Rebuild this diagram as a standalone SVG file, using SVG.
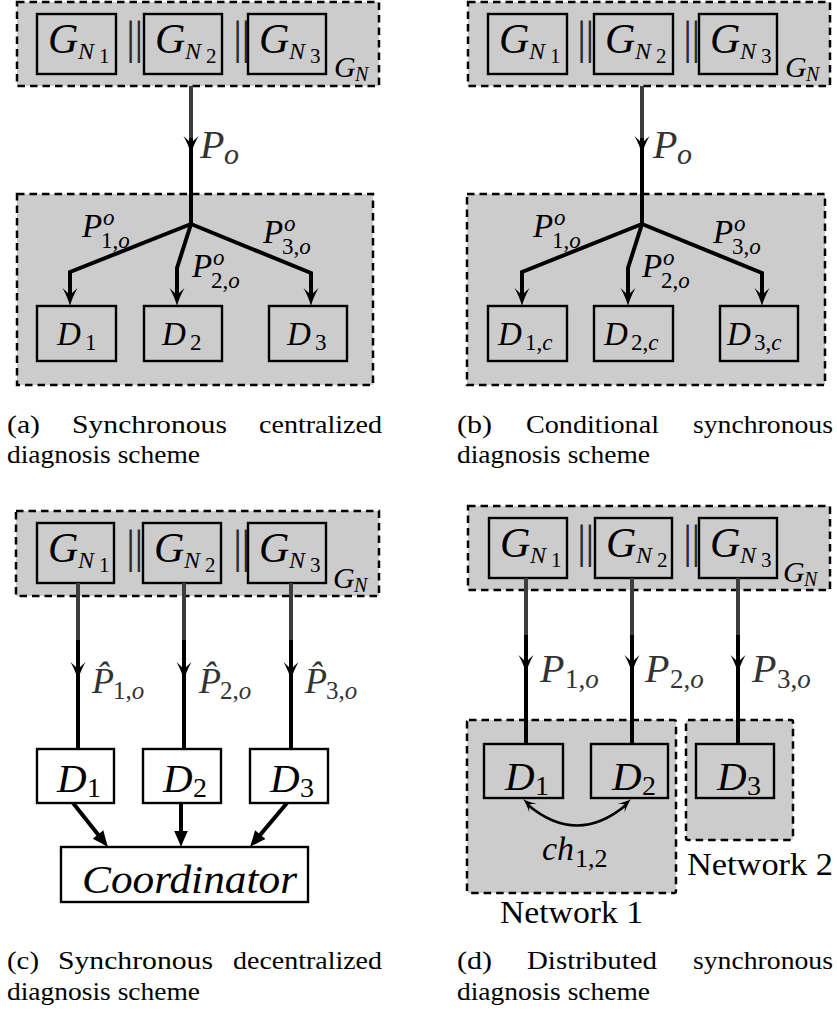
<svg xmlns="http://www.w3.org/2000/svg" xmlns:xlink="http://www.w3.org/1999/xlink" width="837" height="1012" viewBox="0 0 837 1012">
  <style>
    .cont{fill:#cccccc;stroke:#000;stroke-width:2.5;stroke-dasharray:7.5 5}
    .box{fill:none;stroke:#000;stroke-width:2.4}
    .wbox{fill:#fff;stroke:#000;stroke-width:2.4}
    .wire{fill:none;stroke:#000;stroke-width:4;stroke-linejoin:miter}
    .wire-g{fill:none;stroke:#3c3c3c;stroke-width:4}
    .arc{fill:none;stroke:#000;stroke-width:2.6}
    /* math: italic letters, upright digits */
    .m{font-family:"Liberation Serif","Times New Roman",serif;font-style:italic;fill:#000}
    .up{font-style:normal}
    .gl{fill:#333}
    .r{font-family:"Liberation Serif","Times New Roman",serif;fill:#000}
    .bar{font-family:"Liberation Serif","Times New Roman",serif;font-size:46px;letter-spacing:-1px;fill:#2a2a2a}
    .cap{font-family:"Liberation Serif","Times New Roman",serif;font-size:26px;fill:#000}
  </style>
  <defs>
    <!-- arrow head pointing along +x, tip at the origin -->
    <path id="hd" d="M0,0 C-5,-1.2 -12,-4 -18,-7.5 C-15,-4 -12.5,-2 -11,0 C-12.5,2 -15,4 -18,7.5 C-12,4 -5,1.2 0,0 Z" fill="#000"/>
    <!-- solid triangular head -->
    <path id="tri" d="M0,0 C-5,-2 -11,-4.5 -16,-6.8 L-16,6.8 C-11,4.5 -5,2 0,0 Z" fill="#000"/>
  </defs>

  <!-- ================= (a) synchronous centralized ================= -->
  <g id="a-plant">
    <rect class="cont" x="17" y="2" width="362" height="84"/>
    <text class="m" x="334" y="77" font-size="30">G<tspan x="355" y="81" font-size="20">N</tspan></text>
  </g>
  <g id="a-gn1">
    <rect class="box" x="37" y="14" width="79" height="60"/>
    <text class="m" x="48" y="53" font-size="42">G<tspan x="78" y="59" font-size="24">N</tspan><tspan class="up" x="99" y="63" font-size="21">1</tspan></text>
  </g>
  <text class="bar" x="126" y="53">||</text>
  <g id="a-gn2">
    <rect class="box" x="144" y="14" width="78" height="60"/>
    <text class="m" x="155" y="53" font-size="42">G<tspan x="185" y="59" font-size="24">N</tspan><tspan class="up" x="206" y="63" font-size="21">2</tspan></text>
  </g>
  <text class="bar" x="233" y="53">||</text>
  <g id="a-gn3">
    <rect class="box" x="248" y="14" width="78" height="60"/>
    <text class="m" x="259" y="53" font-size="42">G<tspan x="289" y="59" font-size="24">N</tspan><tspan class="up" x="310" y="63" font-size="21">3</tspan></text>
  </g>
  <g id="a-diag">
    <rect class="cont" x="17" y="194" width="356" height="191"/>
  </g>
  <g id="a-d1">
    <rect class="box" x="37" y="306" width="79" height="55"/>
    <text class="m" x="57" y="345" font-size="33">D<tspan class="up" x="85" y="350" font-size="23">1</tspan></text>
  </g>
  <g id="a-d2">
    <rect class="box" x="144" y="306" width="78" height="55"/>
    <text class="m" x="162" y="345" font-size="33">D<tspan class="up" x="190" y="350" font-size="23">2</tspan></text>
  </g>
  <g id="a-d3">
    <rect class="box" x="269" y="306" width="78" height="55"/>
    <text class="m" x="287" y="345" font-size="33">D<tspan class="up" x="315" y="350" font-size="23">3</tspan></text>
  </g>

  <!-- ================= (b) conditional synchronous ================= -->
  <g id="b-plant">
    <rect class="cont" x="468" y="2" width="362" height="84"/>
    <text class="m" x="785" y="77" font-size="30">G<tspan x="806" y="81" font-size="20">N</tspan></text>
  </g>
  <g id="b-gn1">
    <rect class="box" x="488" y="14" width="79" height="60"/>
    <text class="m" x="499" y="53" font-size="42">G<tspan x="529" y="59" font-size="24">N</tspan><tspan class="up" x="550" y="63" font-size="21">1</tspan></text>
  </g>
  <text class="bar" x="577" y="53">||</text>
  <g id="b-gn2">
    <rect class="box" x="594" y="14" width="79" height="60"/>
    <text class="m" x="605" y="53" font-size="42">G<tspan x="635" y="59" font-size="24">N</tspan><tspan class="up" x="656" y="63" font-size="21">2</tspan></text>
  </g>
  <text class="bar" x="683" y="53">||</text>
  <g id="b-gn3">
    <rect class="box" x="699" y="14" width="78" height="60"/>
    <text class="m" x="710" y="53" font-size="42">G<tspan x="740" y="59" font-size="24">N</tspan><tspan class="up" x="761" y="63" font-size="21">3</tspan></text>
  </g>
  <g id="b-diag">
    <rect class="cont" x="467" y="194" width="358" height="191"/>
  </g>
  <g id="b-d1">
    <rect class="box" x="488" y="306" width="79" height="55"/>
    <text class="m" x="498" y="345" font-size="33">D<tspan class="up" x="525" y="350" font-size="23">1,</tspan><tspan font-size="23">c</tspan></text>
  </g>
  <g id="b-d2">
    <rect class="box" x="594" y="306" width="79" height="55"/>
    <text class="m" x="604" y="345" font-size="33">D<tspan class="up" x="631" y="350" font-size="23">2,</tspan><tspan font-size="23">c</tspan></text>
  </g>
  <g id="b-d3">
    <rect class="box" x="720" y="306" width="78" height="55"/>
    <text class="m" x="727" y="345" font-size="33">D<tspan class="up" x="754" y="350" font-size="23">3,</tspan><tspan font-size="23">c</tspan></text>
  </g>

  <!-- ================= (c) synchronous decentralized ================= -->
  <g id="c-plant">
    <rect class="cont" x="16" y="511" width="363" height="85"/>
    <text class="m" x="333" y="588" font-size="30">G<tspan x="354" y="592" font-size="20">N</tspan></text>
  </g>
  <g id="c-gn1">
    <rect class="box" x="37" y="523" width="77" height="60"/>
    <text class="m" x="48" y="562" font-size="42">G<tspan x="78" y="568" font-size="24">N</tspan><tspan class="up" x="99" y="572" font-size="21">1</tspan></text>
  </g>
  <text class="bar" x="126" y="562">||</text>
  <g id="c-gn2">
    <rect class="box" x="143" y="523" width="78" height="60"/>
    <text class="m" x="154" y="562" font-size="42">G<tspan x="184" y="568" font-size="24">N</tspan><tspan class="up" x="205" y="572" font-size="21">2</tspan></text>
  </g>
  <text class="bar" x="233" y="562">||</text>
  <g id="c-gn3">
    <rect class="box" x="248" y="523" width="78" height="60"/>
    <text class="m" x="259" y="562" font-size="42">G<tspan x="289" y="568" font-size="24">N</tspan><tspan class="up" x="310" y="572" font-size="21">3</tspan></text>
  </g>

  <!-- ================= (d) distributed synchronous ================= -->
  <g id="d-plant">
    <rect class="cont" x="468" y="506" width="362" height="84"/>
    <text class="m" x="783" y="582" font-size="30">G<tspan x="804" y="586" font-size="20">N</tspan></text>
  </g>
  <g id="d-gn1">
    <rect class="box" x="489" y="518" width="78" height="60"/>
    <text class="m" x="500" y="557" font-size="42">G<tspan x="530" y="563" font-size="24">N</tspan><tspan class="up" x="551" y="567" font-size="21">1</tspan></text>
  </g>
  <text class="bar" x="577" y="557">||</text>
  <g id="d-gn2">
    <rect class="box" x="595" y="518" width="77" height="60"/>
    <text class="m" x="606" y="557" font-size="42">G<tspan x="636" y="563" font-size="24">N</tspan><tspan class="up" x="657" y="567" font-size="21">2</tspan></text>
  </g>
  <text class="bar" x="683" y="557">||</text>
  <g id="d-gn3">
    <rect class="box" x="699" y="518" width="78" height="60"/>
    <text class="m" x="710" y="557" font-size="42">G<tspan x="740" y="563" font-size="24">N</tspan><tspan class="up" x="761" y="567" font-size="21">3</tspan></text>
  </g>
  <g id="d-net1">
    <rect class="cont" x="467" y="720" width="209" height="173" rx="2"/>
    <text class="r" x="500" y="923" font-size="31" textLength="143" lengthAdjust="spacingAndGlyphs">Network 1</text>
  </g>
  <g id="d-net2">
    <rect class="cont" x="686" y="720" width="107" height="120" rx="2"/>
    <text class="r" x="687" y="875" font-size="31" textLength="146" lengthAdjust="spacingAndGlyphs">Network 2</text>
  </g>

  <!-- ================= connectors ================= -->
  <g id="connectors">
    <!-- (a) -->
    <line class="wire-g" x1="191" y1="86" x2="191" y2="140"/>
    <line class="wire" x1="191" y1="138" x2="191" y2="224"/>
    <use xlink:href="#hd" transform="translate(191,154) rotate(90)"/>
    <text class="m gl" x="200" y="158" font-size="40">P<tspan x="224" y="164" font-size="30">o</tspan></text>
    <polyline class="wire" points="191,224 70,272 70,299"/>
    <polyline class="wire" points="191,224 177,268 177,299"/>
    <polyline class="wire" points="191,224 311,273 311,299"/>
    <use xlink:href="#hd" transform="translate(70,306) rotate(90)"/>
    <use xlink:href="#hd" transform="translate(177,306) rotate(90)"/>
    <use xlink:href="#hd" transform="translate(311,306) rotate(90)"/>
    <text class="m" x="82" y="237" font-size="33">P<tspan x="103" y="225" font-size="23">o</tspan><tspan class="up" x="101" y="248" font-size="23">1,</tspan><tspan font-size="23">o</tspan></text>
    <text class="m" x="192" y="277" font-size="33">P<tspan x="213" y="265" font-size="23">o</tspan><tspan class="up" x="211" y="288" font-size="23">2,</tspan><tspan font-size="23">o</tspan></text>
    <text class="m" x="263" y="243" font-size="33">P<tspan x="284" y="231" font-size="23">o</tspan><tspan class="up" x="282" y="254" font-size="23">3,</tspan><tspan font-size="23">o</tspan></text>

    <!-- (b) -->
    <line class="wire-g" x1="642" y1="86" x2="642" y2="140"/>
    <line class="wire" x1="642" y1="138" x2="642" y2="224"/>
    <use xlink:href="#hd" transform="translate(642,154) rotate(90)"/>
    <text class="m gl" x="653" y="158" font-size="40">P<tspan x="677" y="164" font-size="30">o</tspan></text>
    <polyline class="wire" points="642,224 522,272 522,299"/>
    <polyline class="wire" points="642,224 628,268 628,299"/>
    <polyline class="wire" points="642,224 762,273 762,299"/>
    <use xlink:href="#hd" transform="translate(522,306) rotate(90)"/>
    <use xlink:href="#hd" transform="translate(628,306) rotate(90)"/>
    <use xlink:href="#hd" transform="translate(762,306) rotate(90)"/>
    <text class="m" x="533" y="237" font-size="33">P<tspan x="554" y="225" font-size="23">o</tspan><tspan class="up" x="552" y="248" font-size="23">1,</tspan><tspan font-size="23">o</tspan></text>
    <text class="m" x="642" y="277" font-size="33">P<tspan x="663" y="265" font-size="23">o</tspan><tspan class="up" x="661" y="288" font-size="23">2,</tspan><tspan font-size="23">o</tspan></text>
    <text class="m" x="713" y="243" font-size="33">P<tspan x="734" y="231" font-size="23">o</tspan><tspan class="up" x="732" y="254" font-size="23">3,</tspan><tspan font-size="23">o</tspan></text>

    <!-- (c) -->
    <line class="wire-g" x1="78" y1="583" x2="78" y2="642"/>
    <line class="wire" x1="78" y1="640" x2="78" y2="749"/>
    <use xlink:href="#hd" transform="translate(78,680) rotate(90)"/>
    <line class="wire-g" x1="184" y1="583" x2="184" y2="642"/>
    <line class="wire" x1="184" y1="640" x2="184" y2="749"/>
    <use xlink:href="#hd" transform="translate(184,680) rotate(90)"/>
    <line class="wire-g" x1="291" y1="583" x2="291" y2="642"/>
    <line class="wire" x1="291" y1="640" x2="291" y2="749"/>
    <use xlink:href="#hd" transform="translate(291,680) rotate(90)"/>
    <text class="m gl" x="92" y="693" font-size="36">P̂<tspan class="up" x="113" y="699" font-size="25">1,</tspan><tspan font-size="25">o</tspan></text>
    <text class="m gl" x="199" y="693" font-size="36">P̂<tspan class="up" x="220" y="699" font-size="25">2,</tspan><tspan font-size="25">o</tspan></text>
    <text class="m gl" x="305" y="693" font-size="36">P̂<tspan class="up" x="326" y="699" font-size="25">3,</tspan><tspan font-size="25">o</tspan></text>
    <line class="wire" x1="73" y1="803" x2="103" y2="840.7"/>
    <use xlink:href="#tri" transform="translate(108,847) rotate(51.5)"/>
    <line class="wire" x1="181" y1="803" x2="181" y2="839"/>
    <use xlink:href="#tri" transform="translate(181,847) rotate(90)"/>
    <line class="wire" x1="287" y1="803" x2="255.1" y2="840.9"/>
    <use xlink:href="#tri" transform="translate(250,847) rotate(130)"/>

    <!-- (d) -->
    <line class="wire-g" x1="526" y1="578" x2="526" y2="637"/>
    <line class="wire" x1="526" y1="635" x2="526" y2="744"/>
    <use xlink:href="#hd" transform="translate(526,673) rotate(90)"/>
    <line class="wire-g" x1="632" y1="578" x2="632" y2="637"/>
    <line class="wire" x1="632" y1="635" x2="632" y2="744"/>
    <use xlink:href="#hd" transform="translate(632,673) rotate(90)"/>
    <line class="wire-g" x1="738" y1="578" x2="738" y2="637"/>
    <line class="wire" x1="738" y1="635" x2="738" y2="744"/>
    <use xlink:href="#hd" transform="translate(738,673) rotate(90)"/>
    <text class="m gl" x="540" y="682" font-size="40">P<tspan class="up" x="565" y="688" font-size="27">1,</tspan><tspan font-size="27">o</tspan></text>
    <text class="m gl" x="645" y="682" font-size="40">P<tspan class="up" x="670" y="688" font-size="27">2,</tspan><tspan font-size="27">o</tspan></text>
    <text class="m gl" x="752" y="682" font-size="40">P<tspan class="up" x="777" y="688" font-size="27">3,</tspan><tspan font-size="27">o</tspan></text>
    <path class="arc" d="M528,805 Q577,846 626,805"/>
    <use xlink:href="#hd" transform="translate(523,799) rotate(-138) scale(0.75)"/>
    <use xlink:href="#hd" transform="translate(631,799) rotate(-42) scale(0.75)"/>
    <text class="m" x="542" y="860" font-size="34">ch<tspan class="up" x="575" y="867" font-size="26">1,2</tspan></text>
  </g>

  <!-- nodes of (c) and (d) drawn above the wires -->
  <g id="c-d1">
    <rect class="wbox" x="37" y="749" width="77" height="54"/>
    <text class="m" x="57" y="792" font-size="41">D<tspan class="up" x="87" y="797" font-size="28">1</tspan></text>
  </g>
  <g id="c-d2">
    <rect class="wbox" x="143" y="749" width="78" height="54"/>
    <text class="m" x="163" y="792" font-size="41">D<tspan class="up" x="193" y="797" font-size="28">2</tspan></text>
  </g>
  <g id="c-d3">
    <rect class="wbox" x="250" y="749" width="78" height="54"/>
    <text class="m" x="270" y="792" font-size="41">D<tspan class="up" x="300" y="797" font-size="28">3</tspan></text>
  </g>
  <g id="c-coord">
    <rect class="wbox" x="61" y="847" width="247" height="55"/>
    <text class="m" x="82" y="893" font-size="40" textLength="215" lengthAdjust="spacingAndGlyphs">Coordinator</text>
  </g>
  <g id="d-d1">
    <rect class="box" x="484" y="744" width="79" height="54"/>
    <text class="m" x="505" y="790" font-size="41">D<tspan class="up" x="535" y="795" font-size="28">1</tspan></text>
  </g>
  <g id="d-d2">
    <rect class="box" x="591" y="744" width="77" height="54"/>
    <text class="m" x="612" y="790" font-size="41">D<tspan class="up" x="642" y="795" font-size="28">2</tspan></text>
  </g>
  <g id="d-d3">
    <rect class="box" x="696" y="744" width="78" height="54"/>
    <text class="m" x="717" y="790" font-size="41">D<tspan class="up" x="747" y="795" font-size="28">3</tspan></text>
  </g>

  <!-- ================= captions ================= -->
  <g id="captions">
    <text class="cap" x="7" y="433" textLength="33" lengthAdjust="spacingAndGlyphs">(a)</text>
    <text class="cap" x="72" y="433" textLength="155" lengthAdjust="spacingAndGlyphs">Synchronous</text>
    <text class="cap" x="259" y="433" textLength="123" lengthAdjust="spacingAndGlyphs">centralized</text>
    <text class="cap" x="7" y="463" textLength="193" lengthAdjust="spacingAndGlyphs">diagnosis scheme</text>

    <text class="cap" x="457" y="433" textLength="35" lengthAdjust="spacingAndGlyphs">(b)</text>
    <text class="cap" x="526" y="433" textLength="133" lengthAdjust="spacingAndGlyphs">Conditional</text>
    <text class="cap" x="693" y="433" textLength="140" lengthAdjust="spacingAndGlyphs">synchronous</text>
    <text class="cap" x="457" y="463" textLength="193" lengthAdjust="spacingAndGlyphs">diagnosis scheme</text>

    <text class="cap" x="7" y="969" textLength="32" lengthAdjust="spacingAndGlyphs">(c)</text>
    <text class="cap" x="58" y="969" textLength="155" lengthAdjust="spacingAndGlyphs">Synchronous</text>
    <text class="cap" x="233" y="969" textLength="149" lengthAdjust="spacingAndGlyphs">decentralized</text>
    <text class="cap" x="7" y="1000" textLength="193" lengthAdjust="spacingAndGlyphs">diagnosis scheme</text>

    <text class="cap" x="457" y="969" textLength="35" lengthAdjust="spacingAndGlyphs">(d)</text>
    <text class="cap" x="527" y="969" textLength="130" lengthAdjust="spacingAndGlyphs">Distributed</text>
    <text class="cap" x="693" y="969" textLength="140" lengthAdjust="spacingAndGlyphs">synchronous</text>
    <text class="cap" x="457" y="1000" textLength="193" lengthAdjust="spacingAndGlyphs">diagnosis scheme</text>
  </g>
</svg>
